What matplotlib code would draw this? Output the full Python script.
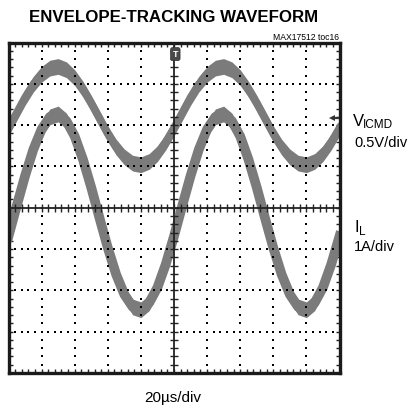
import matplotlib.pyplot as plt
import numpy as np
from matplotlib.ticker import MultipleLocator

# time axis in µs (20 µs/div, 10 div), traces in divisions (8 div)
t_us = list(range(0, 205, 5))
vicmd_div = [1.93, 2.30, 2.67, 2.99, 3.23, 3.38, 3.42, 3.34, 3.15, 2.87,
             2.53, 2.16, 1.79, 1.47, 1.23, 1.08, 1.04, 1.12, 1.31, 1.59,
             1.93, 2.30, 2.67, 2.99, 3.23, 3.38, 3.42, 3.34, 3.15, 2.87,
             2.53, 2.16, 1.79, 1.47, 1.23, 1.08, 1.04, 1.12, 1.31, 1.59,
             1.93]
il_div = [-0.69, 0.05, 0.77, 1.41, 1.90, 2.20, 2.27, 2.10, 1.73, 1.17,
          0.49, -0.25, -0.97, -1.61, -2.10, -2.40, -2.47, -2.30, -1.93, -1.37,
          -0.69, 0.05, 0.77, 1.41, 1.90, 2.20, 2.27, 2.10, 1.73, 1.17,
          0.49, -0.25, -0.97, -1.61, -2.10, -2.40, -2.47, -2.30, -1.93, -1.37,
          -0.69]
vicmd_marker_div = 2.18

title = "ENVELOPE-TRACKING WAVEFORM"
x_label = "20µs/div"

fig = plt.figure(figsize=(4.12, 4.09), dpi=100)
ax = fig.add_axes([8.5 / 412, 36 / 409, 331 / 412, 330.5 / 409])
ax.set_xlim(0, 200)
ax.set_ylim(-4, 4)

trace_col = "#7b7b7b"
for y, lw in ((vicmd_div, 5.5), (il_div, 7)):
    y = np.array(y)
    ax.fill_between(t_us, y - 0.19, y + 0.19, color=trace_col, lw=0, zorder=2)
    ax.plot(t_us, y, color=trace_col, lw=lw, solid_joinstyle="round", zorder=2)

# dotted graticule
for gx in [20, 40, 60, 80, 120, 140, 160, 180]:
    yy = np.arange(-3.8, 4.0, 0.2)
    ax.plot(np.full_like(yy, gx), yy, ls="none", marker="s", ms=1.5, mew=0,
            color="black", zorder=3)
for gy in [-3, -2, -1, 1, 2, 3]:
    xx = np.arange(4, 200, 4)
    ax.plot(xx, np.full_like(xx, gy, dtype=float), ls="none", marker="s", ms=1.5, mew=0,
            color="black", zorder=3)

# center axes with ticks
ax.axhline(0, color="#222222", lw=1.3, zorder=3)
ax.axvline(100, color="#222222", lw=1.3, zorder=3)
xt = np.arange(4, 200, 4)
ax.plot(xt, np.zeros_like(xt), ls="none", marker="|", ms=6, mew=1.0, color="#222222", zorder=3)
yt = np.arange(-3.8, 4.0, 0.2)
ax.plot(np.full_like(yt, 100), yt, ls="none", marker="_", ms=6, mew=1.0, color="#222222", zorder=3)

# frame ticks
ax.xaxis.set_major_locator(MultipleLocator(20))
ax.xaxis.set_minor_locator(MultipleLocator(4))
ax.yaxis.set_major_locator(MultipleLocator(1))
ax.yaxis.set_minor_locator(MultipleLocator(0.2))
ax.tick_params(which="both", direction="in", length=3, width=1.0, color="#222222",
               top=True, right=True, labelbottom=False, labelleft=False)
for s in ax.spines.values():
    s.set_linewidth(2.4)
    s.set_color("#1a1a1a")

# trigger and level markers
ax.text(100.8, 3.72, "T", ha="center", va="center", fontsize=6.5, color="white",
        fontweight="bold", family="Liberation Sans",
        bbox=dict(boxstyle="round,pad=0.22", fc="#4a4a4a", ec="#333333", lw=0.5), zorder=5)
ax.plot([195.5, 199.5], [vicmd_marker_div, vicmd_marker_div], color="#333333", lw=1.6,
        solid_capstyle="butt", zorder=5)
ax.plot([195.5], [vicmd_marker_div], marker="<", ms=4, mew=0, color="#333333", zorder=5)

font = "Liberation Sans"
fig.text(174 / 412, 1 - 18 / 409, title, ha="center", va="center",
         fontsize=12.2, fontweight="bold", family=font)
fig.text(339 / 412, 1 - 37 / 409, "MAX17512 toc16", ha="right", va="center",
         fontsize=6.2, family=font)

fig.text(353 / 412, 1 - 121 / 409, "V", ha="left", va="center", fontsize=12, family=font)
fig.text(363 / 412, 1 - 125 / 409, "ICMD", ha="left", va="center", fontsize=8.5, family=font)
fig.text(354 / 412, 1 - 143 / 409, "0.5V/div", ha="left", va="center", fontsize=10.5, family=font)

fig.text(354 / 412, 1 - 228 / 409, "I", ha="left", va="center", fontsize=12, family=font)
fig.text(358.5 / 412, 1 - 232 / 409, "L", ha="left", va="center", fontsize=8.5, family=font)
fig.text(354 / 412, 1 - 247 / 409, "1A/div", ha="left", va="center", fontsize=10.5, family=font)

fig.text(173 / 412, 1 - 398 / 409, x_label, ha="center", va="center", fontsize=11, family=font)

fig.savefig("out.png", dpi=100, facecolor="white")
